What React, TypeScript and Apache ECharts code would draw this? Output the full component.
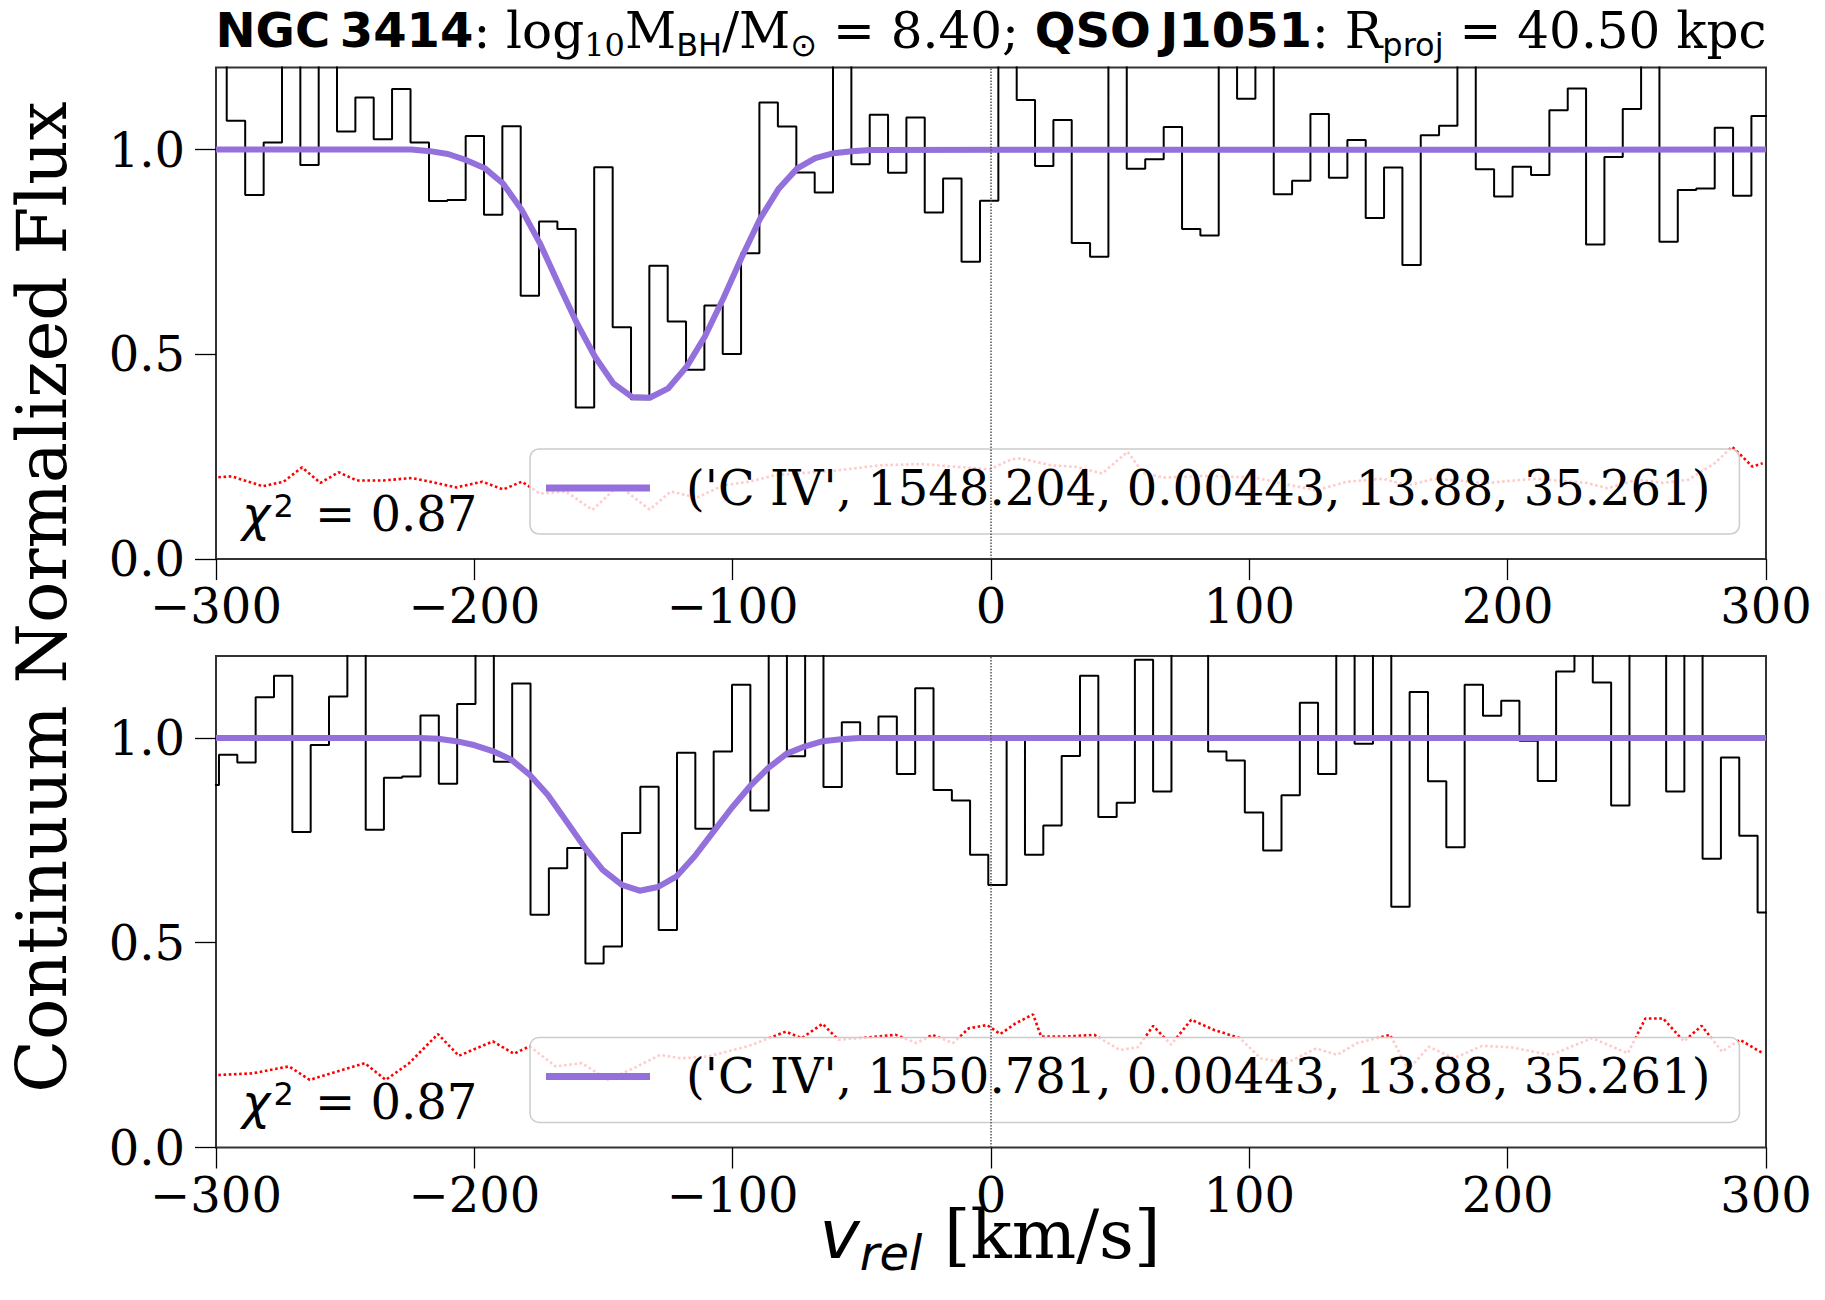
import React, { useEffect, useRef } from 'react';
import * as echarts from 'echarts';

// ---------- data ----------
// Top panel: C IV 1548 — binned flux (bin centres in km/s)
const TOP_V = [
  -299.4, -292.3, -285.1, -278.0, -270.9, -263.8, -256.7, -249.6, -242.5, -235.4,
  -228.3, -221.1, -214.0, -206.9, -199.8, -192.7, -185.6, -178.5, -171.4, -164.3,
  -157.2, -150.0, -142.9, -135.8, -128.7, -121.6, -114.5, -107.4, -100.3, -93.2,
  -86.1, -78.9, -71.8, -64.7, -57.6, -50.5, -43.4, -36.3, -29.2, -22.1,
  -15.0, -7.8, -0.7, 6.4, 13.5, 20.6, 27.7, 34.8, 41.9, 49.0,
  56.1, 63.3, 70.4, 77.5, 84.6, 91.7, 98.8, 105.9, 113.0, 120.1,
  127.2, 134.4, 141.5, 148.6, 155.7, 162.8, 169.9, 177.0, 184.1, 191.2,
  198.3, 205.5, 212.6, 219.7, 226.8, 233.9, 241.0, 248.1, 255.2, 262.3,
  269.4, 276.6, 283.7, 290.8, 297.9, 305.0,
];
const TOP_FLUX = [
  1.30, 1.070, 0.889, 1.017, 1.30, 0.962, 1.30, 1.044, 1.127, 1.025,
  1.148, 1.017, 0.874, 0.877, 1.033, 0.841, 1.057, 0.643, 0.824, 0.806,
  0.370, 0.957, 0.566, 0.390, 0.716, 0.580, 0.462, 0.619, 0.501, 0.747,
  1.115, 1.056, 0.944, 0.895, 1.30, 0.964, 1.085, 0.943, 1.078, 0.846,
  0.929, 0.726, 0.875, 1.30, 1.121, 0.960, 1.072, 0.772, 0.738, 1.30,
  0.953, 0.976, 1.055, 0.806, 0.790, 1.30, 1.124, 1.30, 0.891, 0.924,
  1.087, 0.931, 1.023, 0.833, 0.956, 0.718, 1.035, 1.058, 1.30, 0.952,
  0.885, 0.958, 0.938, 1.096, 1.149, 0.768, 0.982, 1.099, 1.30, 0.775,
  0.901, 0.905, 1.053, 0.887, 1.082, 1.00,
];
const TOP_MODEL_V = [
  -300, -224.3, -217.2, -210.2, -203.1, -195.9, -188.9, -181.6, -174.6, -167.5,
  -160.3, -153.3, -146.2, -139.0, -132.1, -124.9, -117.8, -110.8, -103.6, -96.4,
  -89.3, -82.1, -75.0, -68.0, -60.9, -53.9, -46.8, 300,
];
const TOP_MODEL = [
  1.0, 1.0, 0.996, 0.989, 0.974, 0.954, 0.917, 0.852, 0.771, 0.673,
  0.576, 0.494, 0.429, 0.396, 0.394, 0.417, 0.470, 0.543, 0.637, 0.738,
  0.832, 0.905, 0.954, 0.979, 0.991, 0.996, 0.999, 1.0,
];
const TOP_ERR_V = [
  -299.1, -294.0, -281.9, -273.8, -266.7, -259.6, -252.5, -245.5, -235.3, -224.2,
  -217.1, -207.0, -196.9, -188.8, -181.6, -174.6, -164.5, -154.3, -144.2, -132.1,
  -124.0, -113.8, -103.7, -93.6, -83.5, -73.3, -63.2, -43.0, -26.8, -12.6,
  -0.5, 7.7, 11.4, 23.3, 33.1, 43.0, 52.9, 58.8, 66.7, 82.5,
  102.2, 112.2, 126.0, 137.8, 151.7, 161.6, 171.4, 181.3, 191.2, 201.0,
  210.9, 220.8, 230.7, 238.6, 250.4, 260.3, 270.0, 280.1, 286.9, 290.9,
  294.7, 298.7,
];
const TOP_ERR = [
  0.200, 0.202, 0.178, 0.189, 0.224, 0.186, 0.212, 0.192, 0.192, 0.198,
  0.189, 0.175, 0.189, 0.170, 0.189, 0.160, 0.165, 0.120, 0.180, 0.121,
  0.165, 0.150, 0.180, 0.189, 0.205, 0.210, 0.214, 0.229, 0.232, 0.225,
  0.219, 0.243, 0.246, 0.229, 0.225, 0.209, 0.262, 0.211, 0.199, 0.203,
  0.199, 0.185, 0.168, 0.189, 0.196, 0.180, 0.196, 0.192, 0.185, 0.191,
  0.196, 0.191, 0.186, 0.173, 0.194, 0.186, 0.194, 0.234, 0.274, 0.250,
  0.226, 0.234,
];

// Bottom panel: C IV 1550
const BOT_V = [
  -302.4, -295.3, -288.2, -281.1, -274.0, -266.9, -259.8, -252.7, -245.6, -238.5,
  -231.5, -224.4, -217.3, -210.2, -203.1, -196.0, -188.9, -181.8, -174.7, -167.6,
  -160.5, -153.5, -146.4, -139.3, -132.2, -125.1, -118.0, -110.9, -103.8, -96.7,
  -89.6, -82.5, -75.5, -68.4, -61.3, -54.2, -47.1, -40.0, -32.9, -25.8,
  -18.7, -11.6, -4.6, 2.5, 9.6, 16.7, 23.8, 30.9, 38.0, 45.1,
  52.2, 59.2, 66.3, 73.4, 80.5, 87.6, 94.7, 101.8, 108.9, 116.0,
  123.1, 130.1, 137.2, 144.3, 151.4, 158.5, 165.6, 172.7, 179.8, 186.9,
  194.0, 201.0, 208.1, 215.2, 222.3, 229.4, 236.5, 243.6, 250.7, 257.8,
  264.9, 271.9, 279.0, 286.1, 293.2, 300.3,
];
const BOT_FLUX = [
  0.885, 0.959, 0.940, 1.099, 1.152, 0.770, 0.983, 1.101, 1.30, 0.776,
  0.903, 0.906, 1.055, 0.888, 1.083, 1.30, 0.942, 1.133, 0.568, 0.682,
  0.731, 0.449, 0.491, 0.768, 0.881, 0.531, 0.964, 0.778, 0.967, 1.130,
  0.823, 1.30, 0.955, 1.30, 0.880, 1.038, 0.995, 1.052, 0.912, 1.121,
  0.873, 0.847, 0.715, 0.641, 1.000, 0.715, 0.786, 0.956, 1.152, 0.807,
  0.842, 1.191, 0.869, 1.30, 1.30, 0.967, 0.945, 0.818, 0.725, 0.860,
  1.086, 0.912, 1.30, 0.986, 1.30, 0.588, 1.112, 0.894, 0.733, 1.130,
  1.054, 1.091, 0.993, 0.895, 1.162, 1.30, 1.135, 0.835, 1.30, 1.30,
  0.869, 1.30, 0.705, 0.952, 0.761, 0.574,
];
const BOT_MODEL_V = [
  -300, -221.1, -214.0, -207.0, -199.8, -192.9, -185.7, -178.6, -171.6, -164.3,
  -157.1, -150.3, -142.9, -136.0, -128.9, -121.7, -114.7, -107.8, -100.4, -93.3,
  -86.3, -79.2, -72.2, -65.1, -58.1, -51.0, 300,
];
const BOT_MODEL = [
  1.0, 1.0, 0.998, 0.992, 0.982, 0.968, 0.947, 0.910, 0.861, 0.796,
  0.731, 0.678, 0.641, 0.627, 0.636, 0.662, 0.711, 0.768, 0.829, 0.882,
  0.926, 0.961, 0.979, 0.992, 0.997, 1.0, 1.0,
];
const BOT_ERR_V = [
  -299.1, -286.0, -271.7, -263.7, -253.5, -242.4, -234.3, -225.2, -214.1, -206.0,
  -192.8, -184.7, -178.6, -168.5, -158.4, -148.2, -138.2, -128.1, -120.0, -109.8,
  -93.7, -79.4, -73.3, -65.2, -59.1, -46.9, -36.9, -28.8, -22.7, -14.7,
  -8.6, -1.5, 3.6, 9.5, 16.3, 19.4, 29.1, 40.0, 49.9, 56.9,
  62.8, 69.7, 77.5, 86.4, 96.4, 104.3, 114.2, 125.9, 134.0, 141.7,
  154.5, 161.5, 169.5, 179.3, 190.1, 200.9, 216.8, 232.7, 246.5, 253.3,
  260.2, 268.2, 275.1, 283.0, 289.9, 298.8,
];
const BOT_ERR = [
  0.177, 0.181, 0.198, 0.165, 0.185, 0.206, 0.165, 0.206, 0.277, 0.224,
  0.259, 0.229, 0.247, 0.198, 0.206, 0.165, 0.194, 0.226, 0.218, 0.222,
  0.248, 0.283, 0.267, 0.302, 0.263, 0.269, 0.275, 0.255, 0.275, 0.255,
  0.291, 0.299, 0.277, 0.303, 0.325, 0.271, 0.271, 0.275, 0.238, 0.245,
  0.297, 0.251, 0.312, 0.287, 0.267, 0.218, 0.206, 0.242, 0.226, 0.255,
  0.275, 0.190, 0.246, 0.218, 0.248, 0.245, 0.226, 0.267, 0.230, 0.315,
  0.315, 0.259, 0.297, 0.234, 0.263, 0.230,
];

const X_TICKS = [-300, -200, -100, 0, 100, 200, 300];
const Y_TICKS = [0, 0.5, 1.0];
const TOP_LABEL = "('C IV', 1548.204, 0.00443, 13.88, 35.261)";
const BOT_LABEL = "('C IV', 1550.781, 0.00443, 13.88, 35.261)";
const CHI2 = '0.87';

// ---------- styling ----------
const PURPLE = '#9370DB';
const SERIF = 'DejaVu Serif';
const SANS = 'DejaVu Sans';
const GRID_LEFT = 216;
const GRID_W = 1550;
const GRID_H = 491.5;
const TOPS = [67.6, 656];

const zip = (xs: number[], ys: number[]) =>
  xs.slice(0, Math.min(xs.length, ys.length)).map((x, i) => [x, ys[i]]);

function xAxisCfg(gridIndex: number) {
  return {
    type: 'value',
    gridIndex,
    min: -300,
    max: 300,
    interval: 100,
    position: 'bottom',
    axisLine: { show: false, onZero: false },
    splitLine: { show: false },
    axisTick: {
      show: true,
      length: 21,
      lineStyle: { color: '#000', width: 1.3 },
      customValues: X_TICKS,
    },
    axisLabel: {
      show: true,
      margin: 23,
      fontSize: 48,
      fontFamily: SERIF,
      color: '#000',
      customValues: X_TICKS,
      formatter: (v: number) => (v < 0 ? '\u2212' + Math.abs(v) : String(v)),
    },
  };
}

function yAxisCfg(gridIndex: number) {
  return {
    type: 'value',
    gridIndex,
    min: 0,
    max: 1.2,
    interval: 0.5,
    position: 'left',
    axisLine: { show: false, onZero: false },
    splitLine: { show: false },
    axisTick: {
      show: true,
      length: 21,
      lineStyle: { color: '#000', width: 1.3 },
      customValues: Y_TICKS,
    },
    axisLabel: {
      show: true,
      margin: 31,
      fontSize: 48,
      fontFamily: SERIF,
      color: '#000',
      customValues: Y_TICKS,
      formatter: (v: number) => v.toFixed(1),
    },
  };
}

function panelSeries(i: number, v: number[], flux: number[], mv: number[], model: number[], ev: number[], err: number[], name: string) {
  return [
    {
      type: 'line',
      xAxisIndex: i,
      yAxisIndex: i,
      data: zip(ev, err),
      symbol: 'none',
      silent: true,
      clip: true,
      z: 1,
      lineStyle: { color: '#ff0000', width: 2.6, type: 'dotted' },
    },
    {
      type: 'line',
      xAxisIndex: i,
      yAxisIndex: i,
      data: zip(v, flux),
      step: 'middle',
      symbol: 'none',
      silent: true,
      clip: true,
      z: 2,
      lineStyle: { color: '#000', width: 2 },
      markLine: {
        silent: true,
        symbol: ['none', 'none'],
        label: { show: false },
        lineStyle: { color: '#555', type: 'dotted', width: 1.5 },
        data: [{ xAxis: 0 }],
      },
    },
    {
      name,
      type: 'line',
      xAxisIndex: i,
      yAxisIndex: i,
      data: zip(mv, model),
      symbol: 'none',
      silent: true,
      clip: true,
      z: 3,
      color: PURPLE,
      lineStyle: { color: PURPLE, width: 6, join: 'round' },
    },
  ];
}

function legendCfg(name: string, top: number) {
  return {
    data: [{ name, icon: 'rect' }],
    left: 530,
    top,
    orient: 'horizontal',
    selectedMode: false,
    itemWidth: 104,
    itemHeight: 7,
    padding: [15, 29, 22, 16],
    backgroundColor: 'rgba(255,255,255,0.8)',
    borderColor: '#cccccc',
    borderWidth: 1.5,
    borderRadius: 9,
    textStyle: {
      fontSize: 48,
      fontFamily: SERIF,
      color: '#000',
      padding: [0, 0, 0, 31],
    },
  };
}

function chiText(top: number) {
  return {
    type: 'text',
    x: 242,
    y: top,
    z: 10,
    silent: true,
    style: {
      text: '{c|\u03C7}{s|2}{n| = ' + CHI2 + '}',
      align: 'left',
      verticalAlign: 'top',
      fill: '#000',
      rich: {
        c: { fontFamily: SANS, fontStyle: 'italic', fontSize: 48, lineHeight: 60, verticalAlign: 'top', fill: '#000' },
        s: { fontFamily: SANS, fontSize: 32, lineHeight: 32, verticalAlign: 'top', padding: [0, 3, 0, 3], fill: '#000' },
        n: { fontFamily: SERIF, fontSize: 48, lineHeight: 60, verticalAlign: 'top', padding: [0, 0, 0, 3], fill: '#000' },
      },
    },
  };
}

export default function App() {
  const ref = useRef<HTMLDivElement>(null);

  useEffect(() => {
    document.body.style.margin = '0';
    const chart = echarts.init(ref.current as HTMLDivElement, null, { renderer: 'svg' });

    const titleRich = {
      b: { fontFamily: SANS, fontWeight: 'bold', fontSize: 48, lineHeight: 56, verticalAlign: 'top', fill: '#000' },
      r: { fontFamily: SERIF, fontSize: 50, lineHeight: 56, verticalAlign: 'top', fill: '#000' },
      sr: { fontFamily: SERIF, fontSize: 32, lineHeight: 32, padding: [23, 0, 0, 0], verticalAlign: 'top', fill: '#000' },
      ss: { fontFamily: SANS, fontSize: 32, lineHeight: 32, padding: [23, 0, 0, 0], verticalAlign: 'top', fill: '#000' },
    };

    const option = {
      animation: false,
      backgroundColor: '#ffffff',
      grid: TOPS.map((t) => ({
        left: GRID_LEFT,
        top: t,
        width: GRID_W,
        height: GRID_H,
        show: true,
        borderColor: '#333',
        borderWidth: 2,
        backgroundColor: 'transparent',
      })),
      xAxis: [xAxisCfg(0), xAxisCfg(1)],
      yAxis: [yAxisCfg(0), yAxisCfg(1)],
      legend: [legendCfg(TOP_LABEL, 449), legendCfg(BOT_LABEL, 1037.4)],
      series: [
        ...panelSeries(0, TOP_V, TOP_FLUX, TOP_MODEL_V, TOP_MODEL, TOP_ERR_V, TOP_ERR, TOP_LABEL),
        ...panelSeries(1, BOT_V, BOT_FLUX, BOT_MODEL_V, BOT_MODEL, BOT_ERR_V, BOT_ERR, BOT_LABEL),
      ],
      graphic: [
        {
          type: 'text',
          x: 991,
          y: 6,
          silent: true,
          style: {
            text:
              '{b|NGC\u20093414}{r|: log}{sr|10}{r|M}{ss|BH}{r|/M}{ss|\u2299}{r| = 8.40; }' +
              '{b|QSO\u2009J1051}{r|: R}{ss|proj}{r| = 40.50 kpc}',
            align: 'center',
            verticalAlign: 'top',
            fill: '#000',
            rich: titleRich,
          },
        },
        {
          type: 'text',
          x: 42,
          y: 597,
          rotation: Math.PI / 2,
          silent: true,
          style: {
            text: 'Continuum Normalized Flux',
            fontFamily: SERIF,
            fontSize: 69,
            align: 'center',
            verticalAlign: 'middle',
            fill: '#000',
          },
        },
        {
          type: 'text',
          x: 990,
          y: 1200,
          silent: true,
          style: {
            text: '{v|v}{s|rel}{r| [km/s]}',
            align: 'center',
            verticalAlign: 'top',
            fill: '#000',
            rich: {
              v: { fontFamily: SANS, fontStyle: 'italic', fontSize: 68, lineHeight: 68, verticalAlign: 'top', fill: '#000' },
              s: { fontFamily: SANS, fontStyle: 'italic', fontSize: 48, lineHeight: 48, padding: [29, 0, 0, 0], verticalAlign: 'top', fill: '#000' },
              r: { fontFamily: SERIF, fontSize: 68, lineHeight: 68, verticalAlign: 'top', fill: '#000' },
            },
          },
        },
        chiText(490),
        chiText(1078.4),
      ],
    };

    chart.setOption(option as any);
    return () => chart.dispose();
  }, []);

  return <div ref={ref} style={{ width: 1825, height: 1300 }} />;
}
